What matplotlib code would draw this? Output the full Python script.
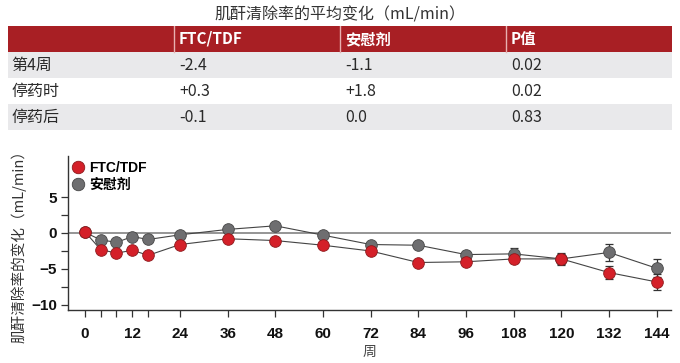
import matplotlib
matplotlib.use("Agg")
import matplotlib.pyplot as plt
from matplotlib.lines import Line2D
from matplotlib.ticker import FixedLocator, FuncFormatter

plt.rcParams['font.family'] = ['Noto Sans CJK SC', 'DejaVu Sans']
plt.rcParams['axes.unicode_minus'] = True

# ---- data ----
title = "肌酐清除率的平均变化（mL/min）"
table_header = ["", "FTC/TDF", "安慰剂", "P值"]
table_rows = [
    ["第4周", "-2.4", "-1.1", "0.02"],
    ["停药时", "+0.3", "+1.8", "0.02"],
    ["停药后", "-0.1", "0.0", "0.83"],
]

weeks = [0, 4, 8, 12, 16, 24, 36, 48, 60, 72, 84, 96, 108, 120, 132, 144]
ftc_tdf = [0.2, -2.3, -2.8, -2.4, -3.1, -1.6, -0.8, -1.05, -1.7, -2.5, -4.1, -4.0, -3.6, -3.6, -5.5, -6.8]
ftc_err = [0.3, 0.3, 0.3, 0.3, 0.3, 0.3, 0.3, 0.3, 0.3, 0.4, 0.4, 0.5, 0.6, 0.8, 0.9, 1.1]
placebo = [0.1, -0.95, -1.3, -0.5, -0.9, -0.25, 0.5, 1.0, -0.3, -1.6, -1.7, -3.0, -2.9, -3.6, -2.7, -4.9]
pla_err = [0.3, 0.3, 0.3, 0.3, 0.3, 0.3, 0.3, 0.3, 0.3, 0.4, 0.4, 0.5, 0.75, 0.7, 1.15, 1.25]
x_major = [0, 12, 24, 36, 48, 60, 72, 84, 96, 108, 120, 132, 144]
y_major = [-10, -5, 0, 5]
y_minor = [-7.5, -2.5, 2.5]

RED = "#d42029"
RED_EDGE = "#8e1a1d"
GRAY = "#6e6e70"
GRAY_EDGE = "#474747"
HEADER = "#a81f24"
ROWBG = "#e9e9eb"

fig = plt.figure(figsize=(6.8, 3.63), dpi=100)

# ---- title ----
fig.text(0.5, 1 - 15 / 363, title, ha="center", va="center", fontsize=11.5, color="#333333")

# ---- table ----
tax = fig.add_axes([8 / 680, 1 - 130 / 363, 664 / 680, 104 / 363])
tax.set_xlim(0, 4)
tax.set_ylim(4, 0)
tax.axis("off")
ncol = len(table_header)
tax.axhspan(0, 1, color=HEADER, lw=0)
for c in range(1, ncol):
    tax.plot([c, c], [0, 1], color="#e8b0b0", lw=1.0)
for c, h in enumerate(table_header):
    if h:
        tax.text(c + 0.03, 0.5, h, ha="left", va="center", color="white",
                 fontsize=11, fontweight="bold")
for r, row in enumerate(table_rows):
    y0 = r + 1
    if r % 2 == 0:
        tax.axhspan(y0, y0 + 1, color=ROWBG, lw=0)
    for c, val in enumerate(row):
        tax.text(c + 0.03 if c else 0.02, y0 + 0.52, val, ha="left", va="center",
                 color="#2a2a2a", fontsize=11.5)

# ---- chart ----
ax = fig.add_axes([68.3 / 680, 1 - 310 / 363, (671 - 68.3) / 680, (310 - 156) / 363])
ax.set_xlim(-4.13, 147.6)
ax.set_ylim(-10.7, 10.7)
ax.axhline(0, color="#8c8c8c", lw=1.3, zorder=1)

ax.plot(weeks, placebo, color="#444444", lw=0.8, zorder=2)
ax.plot(weeks, ftc_tdf, color="#444444", lw=0.8, zorder=2)
ax.errorbar(weeks, placebo, yerr=pla_err, fmt="none", ecolor="#333333", elinewidth=0.9,
            capsize=3, capthick=0.9, zorder=3)
ax.plot(weeks, placebo, "o", ms=8.4, mfc=GRAY, mec=GRAY_EDGE, mew=0.6, zorder=4)
ax.errorbar(weeks, ftc_tdf, yerr=ftc_err, fmt="none", ecolor="#333333", elinewidth=0.9,
            capsize=3, capthick=0.9, zorder=5)
ax.plot(weeks, ftc_tdf, "o", ms=8.4, mfc=RED, mec=RED_EDGE, mew=0.6, zorder=6)

for s in ["top", "right"]:
    ax.spines[s].set_visible(False)
for s in ["left", "bottom"]:
    ax.spines[s].set_color("#333333")
    ax.spines[s].set_linewidth(1.0)

ax.xaxis.set_major_locator(FixedLocator(weeks))
ax.xaxis.set_major_formatter(FuncFormatter(lambda v, p: f"{int(v)}" if int(v) in x_major else ""))
ax.yaxis.set_major_locator(FixedLocator(y_major))
ax.yaxis.set_minor_locator(FixedLocator(y_minor))
ax.yaxis.set_major_formatter(FuncFormatter(lambda v, p: f"{int(v)}".replace("-", "\u2212")))
ax.tick_params(axis="both", which="both", direction="out", length=5, width=0.9, color="#333333")
ax.tick_params(axis="x", pad=7)
ax.tick_params(axis="y", pad=3)
for lab in ax.get_xticklabels() + ax.get_yticklabels():
    lab.set_fontfamily(["Liberation Sans", "DejaVu Sans"])
    lab.set_fontweight("bold")
    lab.set_fontsize(11)
    lab.set_color("#111111")

ax.set_xlabel("周", fontsize=10, color="#444444", labelpad=3)
fig.text(19 / 680, 1 - 243 / 363, "肌酐清除率的变化（mL/min）", rotation=90, ha="center", va="center",
         fontsize=10.5, color="#333333")

handles = [
    Line2D([], [], ls="none", marker="o", ms=9, mfc=RED, mec=RED_EDGE, mew=0.6),
    Line2D([], [], ls="none", marker="o", ms=9, mfc=GRAY, mec=GRAY_EDGE, mew=0.6),
]
leg = ax.legend(handles, ["FTC/TDF", "安慰剂"], loc="upper left", bbox_to_anchor=(-0.012, 1.02),
                frameon=False, handletextpad=0.2, labelspacing=0.2, borderaxespad=0.2,
                handlelength=1.2, prop={"family": ["Liberation Sans", "Noto Sans CJK SC"],
                                        "weight": "bold", "size": 10})

fig.savefig("out.png", dpi=100, facecolor="white")
